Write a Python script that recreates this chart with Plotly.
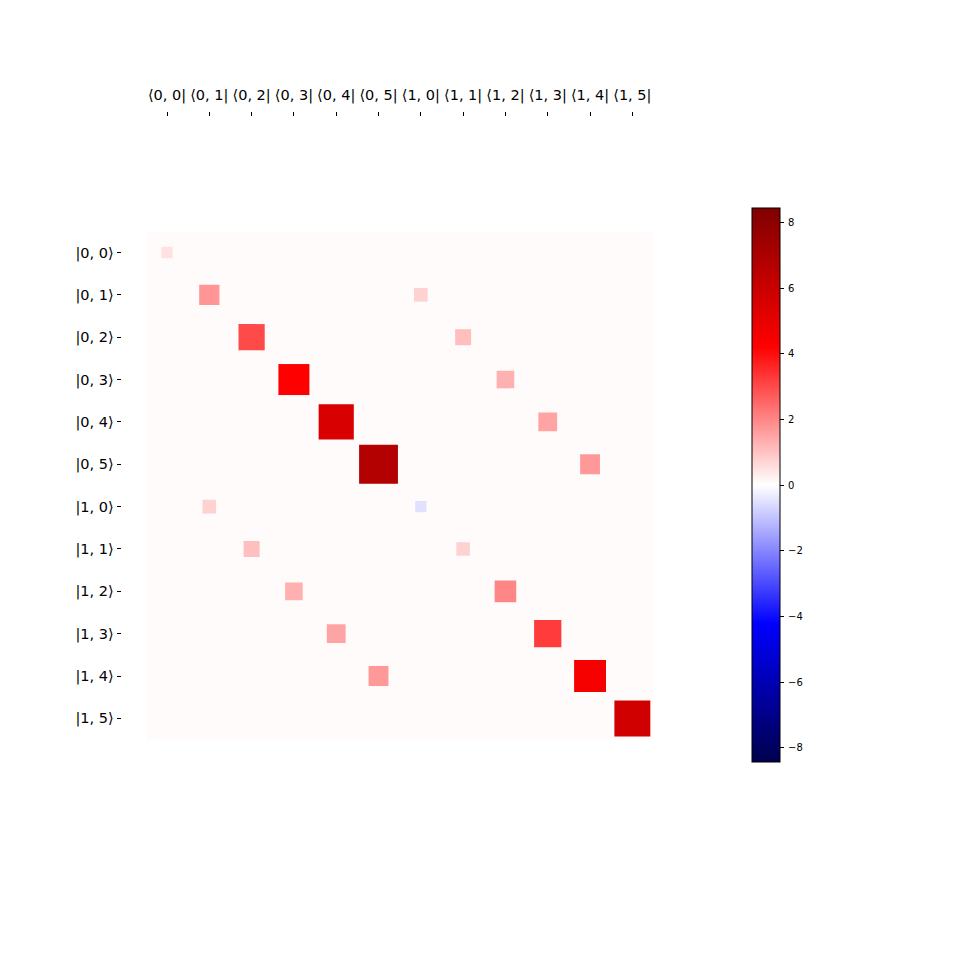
import numpy as np
import plotly.graph_objects as go

# ---- data ----
bra_labels = ["⟨0, 0|", "⟨0, 1|", "⟨0, 2|", "⟨0, 3|", "⟨0, 4|", "⟨0, 5|",
              "⟨1, 0|", "⟨1, 1|", "⟨1, 2|", "⟨1, 3|", "⟨1, 4|", "⟨1, 5|"]
ket_labels = ["|0, 0⟩", "|0, 1⟩", "|0, 2⟩", "|0, 3⟩", "|0, 4⟩", "|0, 5⟩",
              "|1, 0⟩", "|1, 1⟩", "|1, 2⟩", "|1, 3⟩", "|1, 4⟩", "|1, 5⟩"]
diag_q0 = [0.5, 1.75, 3.0, 4.25, 5.5, 6.75]      # <0,n|H|0,n>
diag_q1 = [-0.5, 0.75, 2.0, 3.25, 4.5, 5.75]     # <1,n|H|1,n>
coupling = [0.75, 1.06, 1.30, 1.50, 1.68]        # <0,n+1|H|1,n>
cbar_ticks = [-8, -6, -4, -2, 0, 2, 4, 6, 8]
cbar_ticktext = ["\u2009\u22128", "\u2009\u22126", "\u2009\u22124", "\u2009\u22122",
                 "\u20090", "\u20092", "\u20094", "\u20096", "\u20098"]

N = len(bra_labels)
M = np.zeros((N, N))
for n, v in enumerate(diag_q0):
    M[n, n] = v
for n, v in enumerate(diag_q1):
    M[6 + n, 6 + n] = v
for n, v in enumerate(coupling):
    M[n + 1, 6 + n] = v
    M[6 + n, n + 1] = v

w_max = 1.25 * np.abs(M).max()

# ---- geometry (page body has an 8px margin) ----
W = H = 960
OFF = 8
x0_px, x1_px = 145.85 - OFF, 653.5 - OFF
y0_px, y1_px = 231.3 - OFF, 739.6 - OFF
cell_px = (x1_px - x0_px) / N

rows, cols = np.nonzero(M)
vals = M[rows, cols]
sizes = cell_px * np.sqrt(np.minimum(1, np.abs(vals) / w_max)) + 1.0

seismic = [[0.0, "rgb(0,0,77)"], [0.25, "rgb(0,0,255)"], [0.5, "rgb(255,255,255)"],
           [0.75, "rgb(255,0,0)"], [1.0, "rgb(128,0,0)"]]

fig = go.Figure()
fig.add_trace(go.Scatter(
    x=cols, y=rows, mode="markers",
    marker=dict(symbol="square", size=sizes, color=vals, colorscale=seismic,
                cmin=-w_max, cmax=w_max, opacity=1, line=dict(width=0),
                colorbar=dict(
                    x=(752.3 - OFF) / W, xanchor="left", xref="paper",
                    y=1 - (485.3 - OFF) / H, yanchor="middle", yref="paper",
                    len=554 / H, lenmode="fraction",
                    thickness=28, thicknessmode="pixels",
                    xpad=0, ypad=0, outlinewidth=1, outlinecolor="black",
                    tickmode="array", tickvals=cbar_ticks, ticktext=cbar_ticktext,
                    ticks="outside", ticklen=4, tickwidth=1, tickcolor="black",
                    tickfont=dict(family="DejaVu Sans", size=10, color="black"),
                )),
    hoverinfo="skip", showlegend=False,
))

fig.update_layout(
    width=W, height=H, margin=dict(l=0, r=0, t=0, b=0),
    paper_bgcolor="white", plot_bgcolor="rgb(255,251,251)",
    font=dict(family="DejaVu Sans", color="black"),
    xaxis=dict(domain=[x0_px / W, x1_px / W], range=[-0.5, N - 0.5],
               side="top", anchor="free", position=1 - (115.5 - OFF) / H,
               tickmode="array", tickvals=list(range(N)), ticktext=bra_labels,
               ticks="outside", ticklen=4, tickwidth=1, tickcolor="black",
               ticklabelstandoff=6,
               tickfont=dict(size=14.5, family="DejaVu Sans", color="black"),
               showgrid=False, zeroline=False, showline=False, fixedrange=True),
    yaxis=dict(domain=[1 - y1_px / H, 1 - y0_px / H], range=[N - 0.5, -0.5],
               anchor="free", position=(120.5 - OFF) / W,
               tickmode="array", tickvals=list(range(N)), ticktext=ket_labels,
               ticks="outside", ticklen=4, tickwidth=1, tickcolor="black",
               tickfont=dict(size=14.5, family="DejaVu Sans", color="black"),
               showgrid=False, zeroline=False, showline=False, fixedrange=True),
)

fig.write_html("out.html")
